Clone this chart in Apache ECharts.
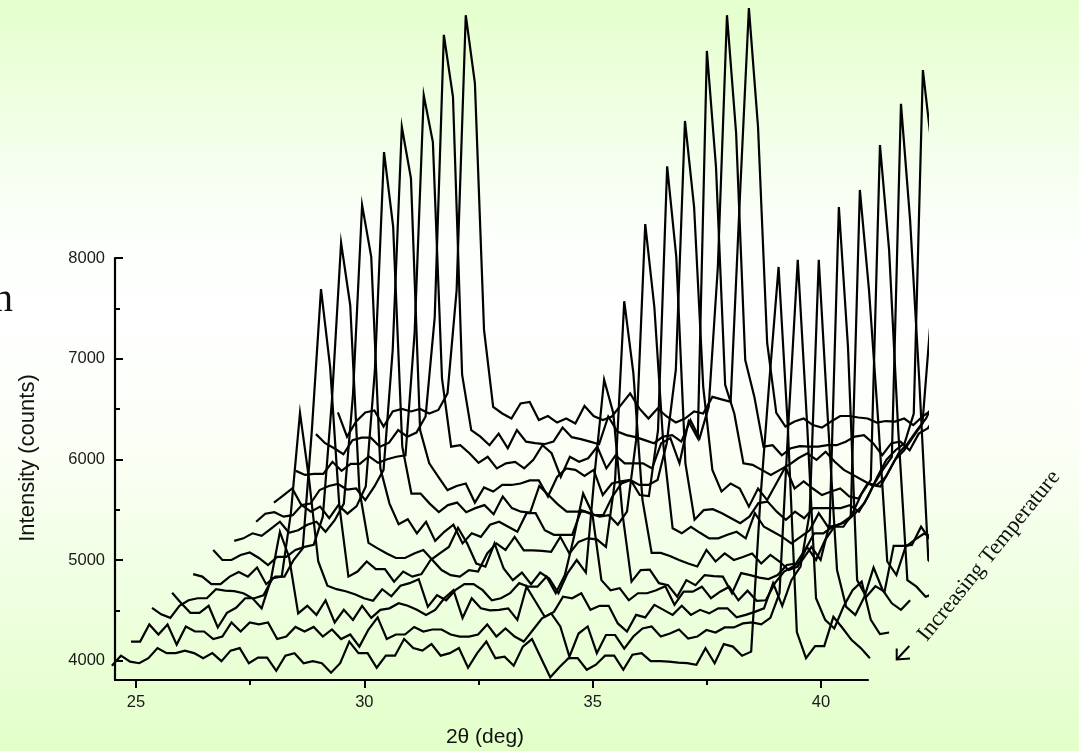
<!DOCTYPE html>
<html><head><meta charset="utf-8">
<style>html,body{margin:0;padding:0;background:#fff}#c{width:1079px;height:751px}</style>
<script src="https://cdn.jsdelivr.net/npm/echarts@6/dist/echarts.min.js"></script></head>
<body><div id="c"></div>
<script>
const xMajorTicks=[25,30,35,40];
const xMinorTicks=[27.5,32.5,37.5];
const yMajorTicks=[4000,5000,6000,7000,8000];
const yMinorTicks=[4500,5500,6500,7500];
const stepDeg=0.2;
const startDeg=[24.47,24.89,25.35,25.79,26.25,26.69,27.15,27.63,28.02,28.5,28.94,29.42];
const s1=[3950,4050,3990,3975,4025,4125,4075,4075,4100,4075,4025,4075,3995,4100,4125,3975,4030,4030,3900,4050,4075,3975,3995,3975,3880,3975,4190,4075,4075,3930,4050,4050,4215,4125,4100,4165,4050,4075,4125,3930,4075,4190,4025,4040,3950,4140,4215,4025,3835,3935,4025,4025,3910,3960,4050,4050,3910,4060,4075,3995,3995,3990,3980,3975,3960,4125,3975,4165,4140,4050,4090,5595,6790,7910,6340,4285,4025,4145,4145,4435,4325,4205,4125,4025];
const s2=[4190,4190,4360,4260,4360,4160,4340,4290,4290,4215,4240,4380,4290,4380,4360,4380,4215,4240,4335,4290,4335,4240,4310,4215,4260,4140,4310,4430,4215,4260,4260,4335,4290,4310,4310,4260,4240,4240,4260,4360,4240,4320,4240,4190,4305,4420,4470,4340,4040,4270,4340,4075,4255,4255,4120,4240,4320,4340,4240,4270,4310,4220,4240,4305,4280,4330,4330,4370,4380,4360,4425,4670,6390,7980,6390,4620,4405,4320,4535,4700,4785,4405,4265,4280];
const s3=[4525,4460,4425,4545,4600,4620,4620,4710,4695,4690,4670,4620,4520,4800,5280,5030,4470,4545,4455,4600,4380,4505,4405,4545,4425,4505,4520,4570,4545,4505,4455,4505,4620,4700,4425,4620,4520,4500,4505,4520,4405,4735,4585,4435,4485,4635,4620,4670,4505,4545,4545,4370,4290,4455,4430,4555,4505,4455,4545,4455,4505,4470,4520,4520,4430,4455,4485,4520,4770,4545,4800,4935,5465,7980,6390,4900,4535,4455,4635,4925,4700,4570,4505,4600];
const s4=[4675,4570,4475,4475,4545,4330,4475,4525,4620,4620,4650,4820,4835,5465,6460,5795,4985,4745,4710,4690,4660,4620,4595,4710,4640,4745,4770,4810,4535,4650,4600,4700,4760,4760,4700,4600,4620,4670,4770,4735,4735,4835,4670,4850,5230,5660,5465,4800,4700,4720,4600,4670,4670,4700,4740,4555,4685,4685,4735,4620,4685,4735,4600,4695,4595,4600,4770,4885,4935,5000,5130,5000,5365,8505,7115,4800,4635,4740,4685,5140,5140,5150,5330,5200];
const s5=[4860,4835,4760,4760,4835,4880,4835,4925,4760,4835,4835,5000,5115,6290,7690,6915,5545,4835,4885,4985,4910,4910,4785,4885,4835,4860,5000,5065,5130,5320,5165,4965,4935,5165,4915,4800,4875,4760,4875,4815,4670,4870,5000,4875,5895,6790,6460,5465,4785,4900,4905,4770,4750,4635,4800,4750,4850,4840,4835,4670,4870,4850,4825,4810,4850,4950,4965,5100,5265,5265,5330,5365,5430,8675,7680,6390,4985,4850,5130,5200,5260,5230,5130,5165];
const s6=[5100,5000,5000,5050,5075,5020,4950,5030,5030,5100,5130,5150,5430,6590,8150,7530,5695,5170,5115,5065,5020,5020,5065,5100,5000,4900,4850,4835,4900,4885,5065,5165,5100,5230,5095,5095,5090,5080,5230,5065,5180,5215,5205,5130,5795,7570,6855,5595,5070,5070,5040,5000,4965,4935,5100,4985,5065,5000,5030,5065,4965,5050,4985,4900,4935,5130,5000,5200,5330,5330,5465,5660,5795,9120,8080,6290,4800,4735,4635,4670,4635,4670,4635,4600];
const s7=[5190,5215,5265,5240,5310,5380,5270,5295,5350,5380,5280,5395,5560,6640,8525,8010,5910,5560,5355,5405,5265,5380,5190,5280,5350,5165,5265,5230,5350,5380,5330,5280,5465,5465,5295,5250,5250,5250,5495,5465,5430,5445,5350,5480,6190,8335,7510,6125,5315,5265,5330,5270,5215,5215,5250,5280,5215,5465,5330,5280,5230,5165,5230,5295,5465,5330,5345,5380,5465,5565,5745,5895,6025,9530,8375,6790,5000,4900];
const s8=[5380,5460,5475,5430,5445,5545,5480,5530,5415,5545,5460,5535,5730,6885,9050,8310,6125,5660,5660,5560,5475,5545,5570,5475,5515,5545,5455,5630,5515,5480,5470,5735,5645,5555,5480,5480,5480,5445,5445,5630,5760,5795,5645,5635,6290,8910,8010,5960,5400,5495,5505,5465,5415,5365,5430,5565,5580,5480,5400,5480,5415,5515,5515,5515,5515,5545,5480,5630,5825,5995,6090,6160,6455,9865,9070];
const s9=[5570,5640,5710,5545,5560,5695,5735,5755,5700,5710,5595,5730,5895,7085,9300,8790,6290,5960,5825,5695,5735,5760,5570,5720,5680,5745,5745,5760,5790,5790,5630,5825,5910,5895,5835,5895,5645,5760,5780,5795,5745,5745,5795,6160,6890,9360,8505,6720,5895,5680,5760,5710,5530,5710,5595,5760,5925,5710,5780,5710,5645,5680,5710,5630,5610,5760,5745,5825,5995,6090,6225,6355,7500];
const s10=[5885,5845,5855,5855,5975,5885,5955,5955,6030,5965,6000,6025,6040,7255,9615,9150,6800,6125,6140,6060,5965,6025,5910,5960,5975,5910,5995,6140,6060,5825,6025,5975,6010,6125,5910,6040,5960,5960,5960,5910,6160,6210,5960,6375,6210,10055,8900,6740,6455,5960,5945,5895,5845,5895,5945,6010,6060,5995,6075,5975,5895,5845,5795,5745,5730,5895,6060,6160,6290,6405,6600];
const s11=[6250,6160,6110,6050,6190,6215,6215,6125,6165,6290,6225,6265,6425,7410,10215,9600,6840,6290,6225,6140,6255,6110,6290,6175,6160,6150,6175,6315,6220,6200,6175,6150,6425,6275,6240,6220,6190,6160,6225,6240,6175,6390,6210,6520,7910,10410,9240,6985,6620,6125,6140,6040,6110,6130,6125,6125,6140,6140,6175,6225,6240,6160,6040,6160,6175,6090,6255,6310,6450];
const s12=[6465,6225,6375,6465,6485,6325,6475,6500,6475,6500,6455,6490,6655,7680,10410,9735,7285,6520,6455,6405,6555,6570,6390,6430,6365,6405,6355,6530,6430,6390,6425,6540,6655,6505,6405,6505,6425,6365,6405,6475,6455,6620,6595,6570,8575,10480,9300,7155,6460,6325,6375,6405,6340,6315,6375,6430,6430,6415,6405,6365,6380,6375,6405,6340,6425,6490];
const allSeries=[s1,s2,s3,s4,s5,s6,s7,s8,s9,s10,s11,s12];

const chart=echarts.init(document.getElementById('c'),null,{renderer:'canvas'});
const ink='#000';
const labelFont={fontFamily:'"Liberation Sans",Arial,sans-serif',fontSize:16.5,color:'#1a1a1a'};
const plain=v=>String(v);
const hiddenX={show:false,gridIndex:1,type:'value',min:24.32,max:42.32};
const hiddenY={show:false,gridIndex:1,type:'value',min:3709,max:10561};
chart.setOption({
  animation:false,
  backgroundColor:{type:'linear',x:0,y:0,x2:0,y2:1,colorStops:[
    {offset:0,color:'#e4ffcc'},{offset:0.12,color:'#eeffdf'},{offset:0.3,color:'#fbfffa'},
    {offset:0.42,color:'#ffffff'},{offset:0.6,color:'#fbfff6'},{offset:0.8,color:'#eeffdf'},{offset:1,color:'#e2ffc8'}]},
  grid:[
    {left:115,top:258,width:753,height:422,containLabel:false},
    {left:105,top:0,width:822,height:690,containLabel:false}
  ],
  xAxis:[
    {gridIndex:0,type:'value',position:'bottom',min:24.54,max:41.03,splitLine:{show:false},
     axisLine:{show:true,onZero:false,lineStyle:{color:ink,width:2.2}},
     axisTick:{show:true,customValues:xMajorTicks,length:8,lineStyle:{color:ink,width:2}},
     axisLabel:{show:true,customValues:xMajorTicks,formatter:plain,margin:14,...labelFont}},
    {gridIndex:0,type:'value',position:'bottom',min:24.54,max:41.03,splitLine:{show:false},
     axisLine:{show:false,onZero:false},
     axisTick:{show:true,customValues:xMinorTicks,length:5,lineStyle:{color:ink,width:2}},
     axisLabel:{show:false}},
    hiddenX
  ],
  yAxis:[
    {gridIndex:0,type:'value',position:'left',min:3808,max:8000,splitLine:{show:false},
     axisLine:{show:true,onZero:false,lineStyle:{color:ink,width:2.2}},
     axisTick:{show:true,inside:true,customValues:yMajorTicks,length:8,lineStyle:{color:ink,width:2}},
     axisLabel:{show:true,customValues:yMajorTicks,formatter:plain,margin:10,...labelFont}},
    {gridIndex:0,type:'value',position:'left',min:3808,max:8000,splitLine:{show:false},
     axisLine:{show:false,onZero:false},
     axisTick:{show:true,inside:true,customValues:yMinorTicks,length:5,lineStyle:{color:ink,width:2}},
     axisLabel:{show:false}},
    hiddenY
  ],
  series:allSeries.map((vals,k)=>({
    type:'line',xAxisIndex:2,yAxisIndex:2,symbol:'none',smooth:false,clip:true,silent:true,
    lineStyle:{color:ink,width:2.2,join:'miter'},
    data:vals.map((v,i)=>[startDeg[k]+i*stepDeg,v])
  })),
  graphic:[
    {type:'text',x:-7,y:320,style:{text:'n',font:'40px "Liberation Serif",serif',fill:'#111',textVerticalAlign:'bottom'}},
    {type:'text',x:28,y:458,rotation:Math.PI/2,style:{text:'Intensity (counts)',font:'22px "Liberation Sans",sans-serif',fill:'#111',textAlign:'center',textVerticalAlign:'middle'}},
    {type:'text',x:485,y:737,style:{text:'2θ (deg)',font:'21px "Liberation Sans",sans-serif',fill:'#111',textAlign:'center',textVerticalAlign:'middle'}},
    {type:'text',x:989,y:556,rotation:51*Math.PI/180,style:{text:'Increasing Temperature',font:'22.5px "Liberation Serif",serif',fill:'#111',textAlign:'center',textVerticalAlign:'middle'}},
    {type:'polyline',shape:{points:[[909.3,646],[896.7,659.5]]},style:{stroke:'#000',lineWidth:2,fill:null}},
    {type:'polyline',shape:{points:[[896.7,648.5],[896.7,659.5],[910,658.5]]},style:{stroke:'#000',lineWidth:2,fill:null}}
  ]
});
</script></body></html>
